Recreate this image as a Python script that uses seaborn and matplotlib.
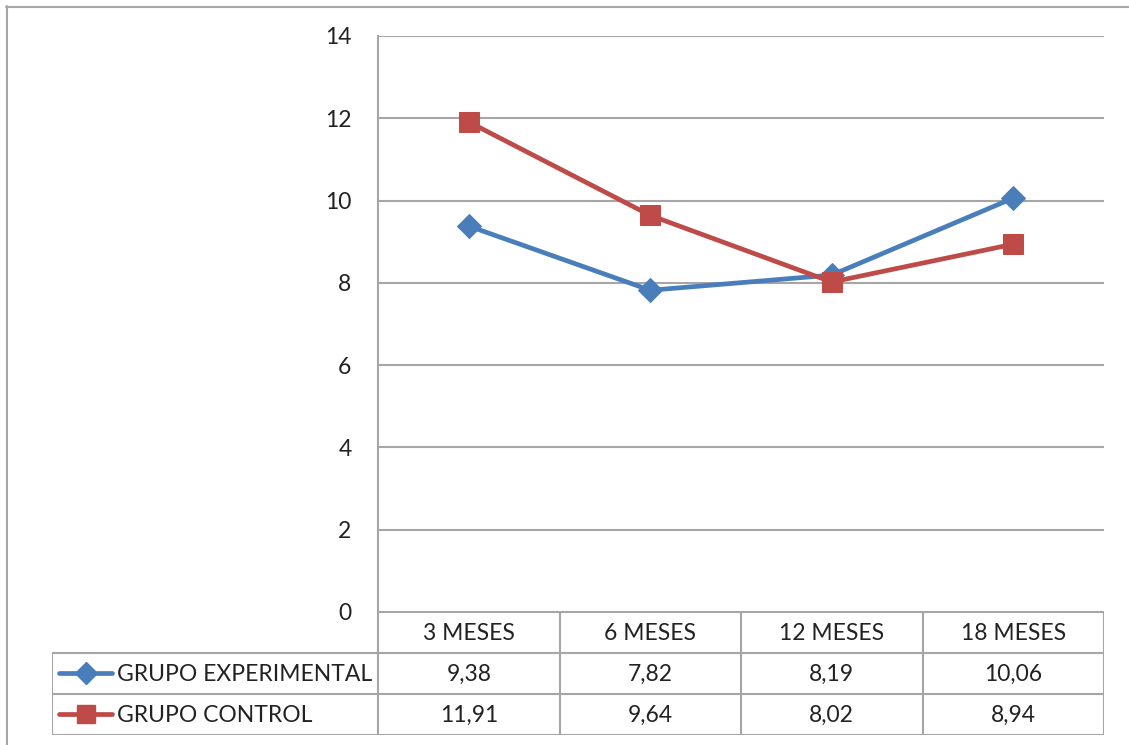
import matplotlib
matplotlib.use("Agg")
import matplotlib.pyplot as plt
import seaborn as sns
import pandas as pd

periodos = ["3 MESES", "6 MESES", "12 MESES", "18 MESES"]
experimental = [9.38, 7.82, 8.19, 10.06]
control = [11.91, 9.64, 8.02, 8.94]
series_names = ["GRUPO EXPERIMENTAL", "GRUPO CONTROL"]
y_ticks = [0, 2, 4, 6, 8, 10, 12, 14]

sns.set_theme(style="white")
plt.rcParams["font.family"] = ["Lato", "DejaVu Sans"]

BLUE = "#4A7EBB"
RED = "#BE4B48"
GRID = "#A6A6A6"
TXT = "#222222"
FS = 16.5

W, H = 1129, 745
fig = plt.figure(figsize=(W / 100, H / 100), dpi=100)

def fx(px):
    return px / W

def fy(py):
    return 1 - py / H

# outer chart frame
fig.add_artist(plt.Line2D([fx(6), fx(W)], [fy(6.5), fy(6.5)], color=GRID, lw=1.5))
fig.add_artist(plt.Line2D([fx(6.5), fx(6.5)], [fy(6), 0], color=GRID, lw=1.5))

left, right, top, bottom = 378, 1104, 36, 612
ax = fig.add_axes([fx(left), fy(bottom), fx(right - left), fy(top) - fy(bottom)])

df = pd.DataFrame({
    "x": list(range(len(periodos))) * 2,
    "valor": experimental + control,
    "grupo": [series_names[0]] * len(periodos) + [series_names[1]] * len(periodos),
})
palette = {series_names[0]: BLUE, series_names[1]: RED}
markers = {series_names[0]: "D", series_names[1]: "s"}
msize = {series_names[0]: 12.5, series_names[1]: 14}
for name in series_names:
    sub = df[df["grupo"] == name]
    sns.lineplot(data=sub, x="x", y="valor", color=palette[name], lw=3.4,
                 marker=markers[name], markersize=msize[name],
                 markeredgecolor=palette[name], ax=ax, legend=False, zorder=3)

ax.set_xlim(-0.5, len(periodos) - 0.5)
ax.set_ylim(0, 14)
ax.set_yticks(y_ticks)
ax.set_yticklabels([str(t) for t in y_ticks], fontsize=FS, color=TXT)
ax.set_xticks([])
ax.set_xlabel("")
ax.set_ylabel("")
ax.tick_params(axis="y", length=0, pad=19)
for yv in y_ticks:
    ax.axhline(yv, color=GRID, lw=1.5, zorder=1)
for s in ["top", "right", "bottom"]:
    ax.spines[s].set_visible(False)
ax.spines["left"].set_color(GRID)
ax.spines["left"].set_linewidth(1.5)

# data table below the plot
tleft, tbottom = 52, 735
tab = fig.add_axes([fx(tleft), fy(tbottom), fx(right - tleft), fy(bottom) - fy(tbottom)])
tab.set_xlim(tleft, right)
tab.set_ylim(tbottom, bottom)
tab.axis("off")
row_y = [612, 653, 694, 735]
col_x = [left + i * (right - left) / len(periodos) for i in range(len(periodos) + 1)]

lk = dict(color=GRID, lw=1.5, solid_capstyle="projecting")
tab.plot([left, right], [row_y[0], row_y[0]], **lk)
for yv in row_y[1:]:
    tab.plot([tleft, right], [yv, yv], **lk)
for xv in col_x:
    tab.plot([xv, xv], [row_y[0], row_y[-1]], **lk)
tab.plot([tleft, tleft], [row_y[1], row_y[-1]], **lk)

for i, p in enumerate(periodos):
    cx = (col_x[i] + col_x[i + 1]) / 2
    tab.text(cx, (row_y[0] + row_y[1]) / 2 + 1, p, ha="center", va="center",
             fontsize=FS, color=TXT)
for r, vals in enumerate([experimental, control]):
    cy = (row_y[r + 1] + row_y[r + 2]) / 2
    for i, v in enumerate(vals):
        cx = (col_x[i] + col_x[i + 1]) / 2
        tab.text(cx, cy + 1, f"{v:.2f}".replace(".", ","), ha="center", va="center",
                 fontsize=FS, color=TXT)
    name = series_names[r]
    tab.plot([59, 112], [cy, cy], color=palette[name], lw=3.4, solid_capstyle="round")
    tab.plot([86], [cy], marker=markers[name], color=palette[name],
             markersize=msize[name] - 1.5, markeredgecolor=palette[name])
    tab.text(117, cy + 1, name, ha="left", va="center", fontsize=FS, color=TXT)

fig.savefig("out.png", dpi=100)
